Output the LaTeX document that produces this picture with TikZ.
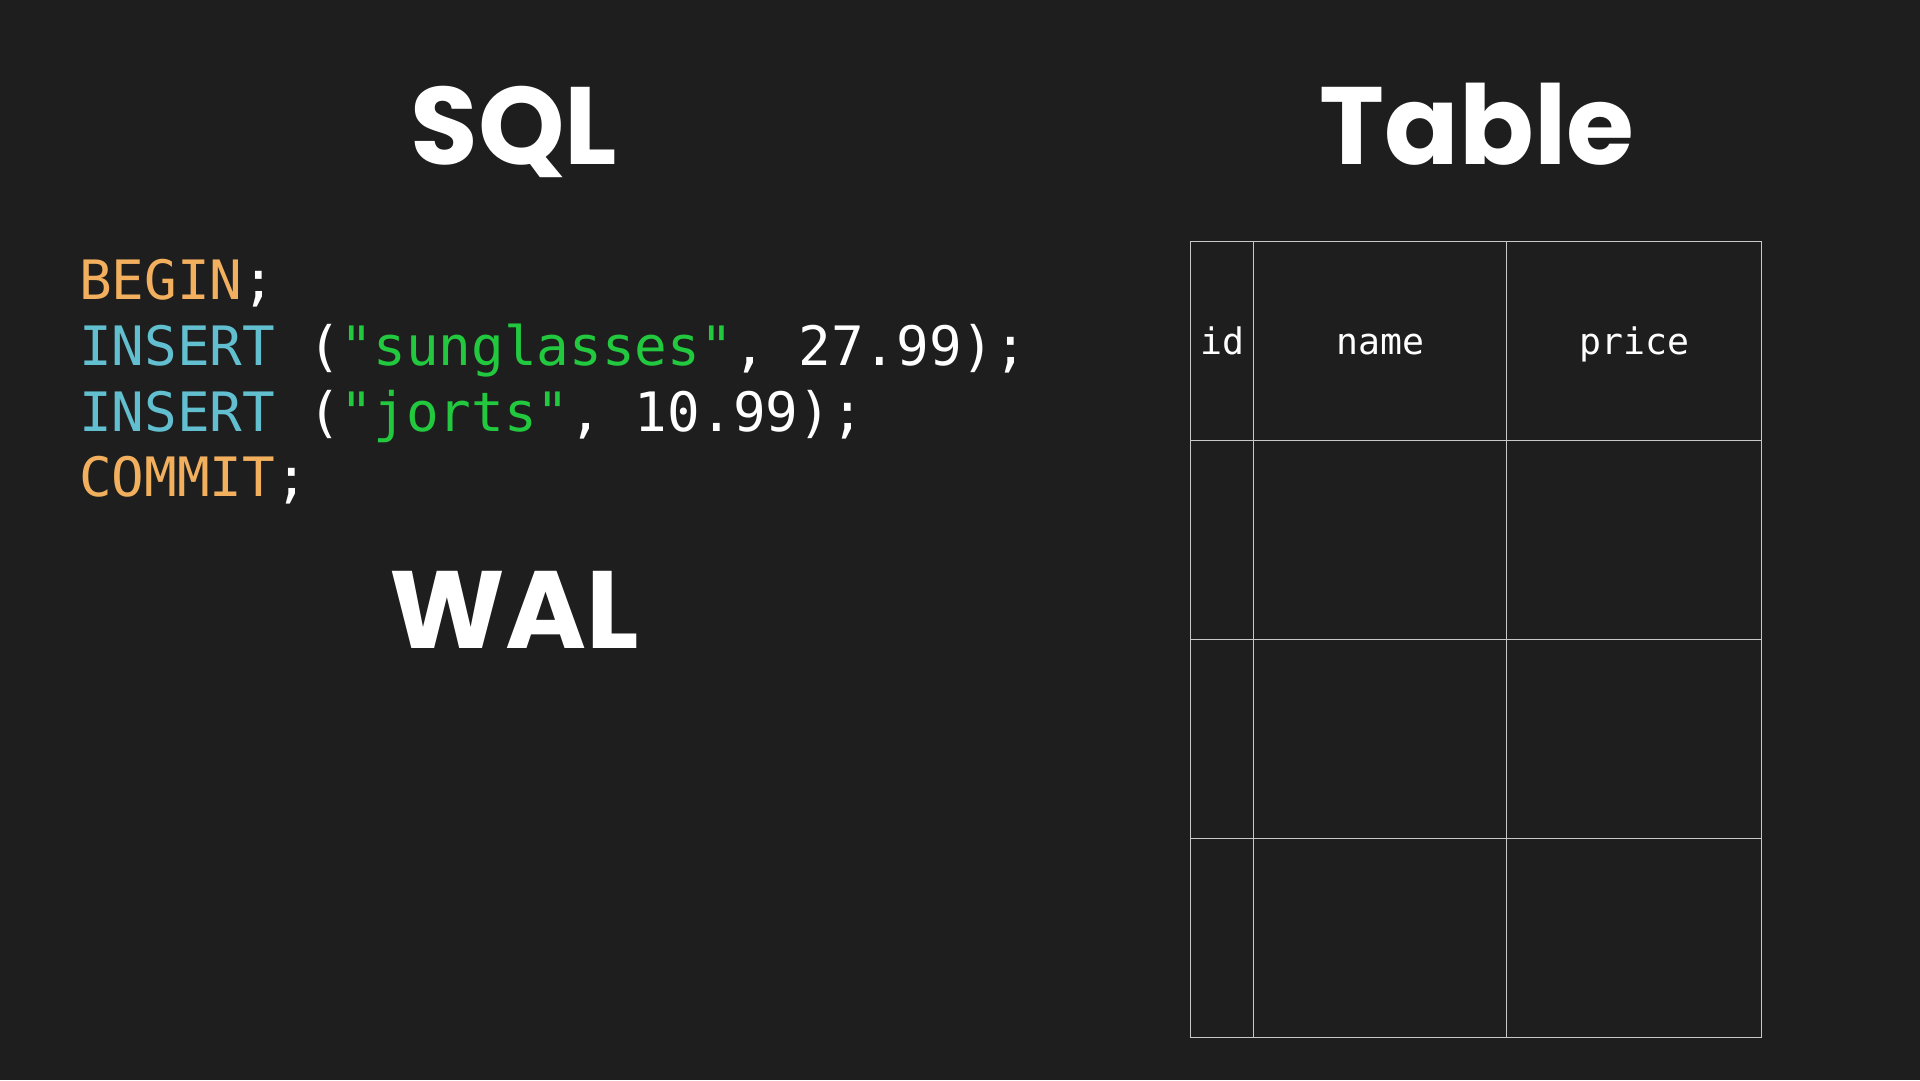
\documentclass[tikz,border=0pt]{standalone}
\usepackage{fontspec}
\setmonofont{DejaVu Sans Mono}
\newfontfamily\titlefont{Poppins}
\usepackage{tikz}
\usetikzlibrary{matrix}
\definecolor{bgDark}{HTML}{1E1E1E}
\definecolor{kwOrange}{HTML}{F2B05E}
\definecolor{kwCyan}{HTML}{62BFD0}
\definecolor{strGreen}{HTML}{22C93F}
\definecolor{gridGray}{HTML}{C8C8C8}
\newcommand{\kwo}[1]{\textcolor{kwOrange}{#1}}
\newcommand{\kwc}[1]{\textcolor{kwCyan}{#1}}
\newcommand{\strg}[1]{\textcolor{strGreen}{#1}}
\tikzset{
	heading/.style={font=\titlefont\bfseries\fontsize{110}{110}\selectfont, text=white, inner sep=0pt, anchor=base},
	codeline/.style={font=\ttfamily\fontsize{54.3}{60}\selectfont, text=white, inner sep=0pt, anchor=base west}
}

\begin{document}
\begin{tikzpicture}[x=1pt,y=1pt]
	\fill[bgDark] (0,0) rectangle (1920,1080);
	\useasboundingbox (0,0) rectangle (1920,1080);
	\node[heading] (sql) at (514,915) {SQL};
	\node[heading] (tabletitle) at (1477,915) {Table};
	\node[heading] (wal) at (514,431) {WAL};
	
	\node[codeline] (begin) at (79,780) {\kwo{BEGIN};};
	\node[codeline] (insert1) at (79,714) {\kwc{INSERT} (\strg{"sunglasses"}, 27.99);};
	\node[codeline] (insert2) at (79,648) {\kwc{INSERT} (\strg{"jorts"}, 10.99);};
	\node[codeline] (commit) at (79,583) {\kwo{COMMIT};};
	
	\matrix (tbl) [matrix of nodes, anchor=north west, inner sep=0pt, outer sep=0pt,
		nodes in empty cells, row sep=-1.2pt, column sep=-1.2pt,
		nodes={draw=gridGray, line width=1.2pt, anchor=center, minimum height=199pt, inner sep=0pt, outer sep=0pt,
			text height=31pt, text depth=4pt, text=white, font=\ttfamily\fontsize{36.5}{40}\selectfont},
		column 1/.style={nodes={minimum width=63pt}},
		column 2/.style={nodes={minimum width=253pt}},
		column 3/.style={nodes={minimum width=255pt}}] at (1190,839)
	{
		id & name & price \\
		 & & \\
		 & & \\
		 & & \\};
\end{tikzpicture}
\end{document}
